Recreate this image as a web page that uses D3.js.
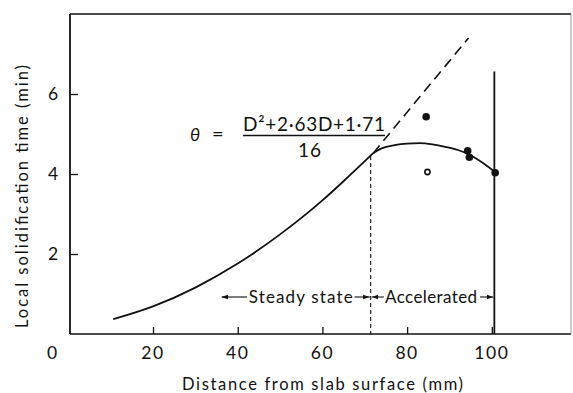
<!DOCTYPE html>
<html>
<head>
<meta charset="utf-8">
<script src="https://cdn.jsdelivr.net/npm/d3@7"></script>
<style>
  body { margin: 0; background: #fff; }
  svg text { font-family: Lato, "Open Sans", sans-serif; fill: #111; }
</style>
</head>
<body>
<div class="chart"></div>
<script>
// steady state curve (solid), distance mm -> time min
var steadyCurve = [[10.6, 0.37], [20, 0.69], [30, 1.16], [40, 1.76], [50, 2.49], [60, 3.34], [66, 3.92], [72, 4.52]];
// accelerated part (solid)
var accelCurve = [[72, 4.52], [74, 4.64], [77, 4.72], [80, 4.76], [83, 4.77], [86, 4.74], [89, 4.68], [92, 4.6], [95, 4.47], [98, 4.27], [101, 4.03]];
// extrapolated steady state (dashed)
var extrapCurve = [[72, 4.52], [83, 5.93], [94.5, 7.4]];
// measured points
var filledPoints = [[84.5, 5.43], [94.3, 4.58], [94.7, 4.42], [100.8, 4.03]];
var openPoints = [[84.8, 4.05]];
var xTicks = [20, 40, 60, 80, 100];
var yTicks = [2, 4, 6];
var boundaryDash = 71.4;     // steady / accelerated
var boundarySolid = 100.6;   // end of accelerated
var boundarySolidTop = 6.56;

var width = 573, height = 393;
var svg = d3.select('.chart').append('svg')
    .attr('width', width)
    .attr('height', height);

var x = d3.scaleLinear().domain([0.4, 118.7]).range([70, 571]);
var y = d3.scaleLinear().domain([0, 8]).range([334, 14]);

//边框
svg.append('line').attr('x1', x(0.4)).attr('x2', x(118.7)).attr('y1', y(8)).attr('y2', y(8))
    .style('stroke', '#111').style('stroke-width', 1.6);
svg.append('line').attr('x1', x(0.4)).attr('x2', x(118.7)).attr('y1', y(0)).attr('y2', y(0))
    .style('stroke', '#111').style('stroke-width', 1.6);
svg.append('line').attr('x1', x(0.4)).attr('x2', x(0.4)).attr('y1', y(8)).attr('y2', y(0))
    .style('stroke', '#111').style('stroke-width', 1.8);
svg.append('line').attr('x1', x(118.7)).attr('x2', x(118.7)).attr('y1', y(8)).attr('y2', y(0))
    .style('stroke', '#999').style('stroke-width', 1);

// x轴 (ticks inside)
var xAxis = d3.axisTop(x).tickValues(xTicks).tickSizeInner(7).tickSizeOuter(0).tickFormat('');
var gx = svg.append('g').attr('transform', 'translate(0,' + y(0) + ')').call(xAxis);
gx.select('.domain').remove();
gx.selectAll('.tick line').style('stroke', '#111').style('stroke-width', 1.3);
svg.append('g').selectAll('text').data(xTicks).enter().append('text')
    .attr('x', function(d) { return x(d); })
    .attr('y', 359)
    .attr('text-anchor', 'middle')
    .style('font-size', '17.5px')
    .style('letter-spacing', '1.5px')
    .text(function(d) { return d; });
svg.append('text').attr('x', 52).attr('y', 359).attr('text-anchor', 'middle')
    .style('font-size', '17.5px').text('0');

// y轴
var yAxis = d3.axisRight(y).tickValues(yTicks).tickSizeInner(8).tickSizeOuter(0).tickFormat('');
var gy = svg.append('g').attr('transform', 'translate(' + x(0.4) + ',0)').call(yAxis);
gy.select('.domain').remove();
gy.selectAll('.tick line').style('stroke', '#111').style('stroke-width', 1.3);
svg.append('g').selectAll('text').data(yTicks).enter().append('text')
    .attr('x', 53)
    .attr('y', function(d) { return y(d) + 6; })
    .attr('text-anchor', 'middle')
    .style('font-size', '17.5px')
    .text(function(d) { return d; });

// axis titles
svg.append('text').attr('x', 182).attr('y', 390)
    .attr('textLength', 281).attr('lengthAdjust', 'spacing')
    .style('font-size', '16.5px')
    .text('Distance from slab surface (mm)');
svg.append('text').attr('transform', 'translate(28,328) rotate(-90)')
    .attr('textLength', 263).attr('lengthAdjust', 'spacing')
    .style('font-size', '16.5px')
    .text('Local solidification time (min)');

var line = d3.line()
    .x(function(d) { return x(d[0]); })
    .y(function(d) { return y(d[1]); })
    .curve(d3.curveMonotoneX);

svg.append('path').datum(steadyCurve).attr('d', line)
    .style('fill', 'none').style('stroke', '#111').style('stroke-width', 1.8);
svg.append('path').datum(accelCurve).attr('d', line)
    .style('fill', 'none').style('stroke', '#111').style('stroke-width', 1.8);
svg.append('path').datum(extrapCurve).attr('d', line)
    .style('fill', 'none').style('stroke', '#111').style('stroke-width', 1.6)
    .style('stroke-dasharray', '10,6');

// 分界线
svg.append('line')
    .attr('x1', x(boundaryDash)).attr('x2', x(boundaryDash))
    .attr('y1', y(4.45)).attr('y2', y(0))
    .style('stroke', '#111').style('stroke-width', 1.1).style('stroke-dasharray', '4,3');
svg.append('line')
    .attr('x1', x(boundarySolid)).attr('x2', x(boundarySolid))
    .attr('y1', y(boundarySolidTop)).attr('y2', y(0))
    .style('stroke', '#111').style('stroke-width', 1.8);

// points
svg.append('g').selectAll('circle').data(filledPoints).enter().append('circle')
    .attr('cx', function(d) { return x(d[0]); })
    .attr('cy', function(d) { return y(d[1]); })
    .attr('r', 3.8)
    .style('fill', '#111');
svg.append('g').selectAll('circle').data(openPoints).enter().append('circle')
    .attr('cx', function(d) { return x(d[0]); })
    .attr('cy', function(d) { return y(d[1]); })
    .attr('r', 2.6)
    .style('fill', '#fff').style('stroke', '#111').style('stroke-width', 1.6);

// 区间标注 (arrows)
var defs = svg.append('defs');
defs.append('marker').attr('id', 'arr').attr('viewBox', '0 0 10 10')
    .attr('refX', 10).attr('refY', 5).attr('markerWidth', 6).attr('markerHeight', 6)
    .attr('orient', 'auto-start-reverse')
    .append('path').attr('d', 'M0,1.5 L10,5 L0,8.5 Z').style('fill', '#111');

var arrowY = 297;
function arrow(x1, x2, startHead, endHead) {
    var l = svg.append('line').attr('x1', x1).attr('x2', x2).attr('y1', arrowY).attr('y2', arrowY)
        .style('stroke', '#111').style('stroke-width', 1.1);
    if (startHead) l.attr('marker-start', 'url(#arr)');
    if (endHead) l.attr('marker-end', 'url(#arr)');
}
arrow(x(36.2), x(42.2), true, false);
svg.append('text').attr('x', x(42.6)).attr('y', arrowY + 6)
    .attr('textLength', 104).attr('lengthAdjust', 'spacing')
    .style('font-size', '17px')
    .text('Steady state');
arrow(x(67.6), x(boundaryDash) - 1, false, true);
arrow(x(boundaryDash) + 1, x(74.5), true, false);
svg.append('text').attr('x', x(74.8)).attr('y', arrowY + 6)
    .attr('textLength', 92).attr('lengthAdjust', 'spacing')
    .style('font-size', '17px')
    .text('Accelerated');
arrow(x(97.2), x(boundarySolid) - 1, false, true);

// formula
svg.append('text').attr('x', 190).attr('y', 141)
    .style('font-size', '18px').style('font-style', 'italic').text('θ');
svg.append('text').attr('x', 212).attr('y', 141)
    .style('font-size', '20px').text('=');
svg.append('text').attr('x', 243).attr('y', 131)
    .attr('textLength', 142).attr('lengthAdjust', 'spacing')
    .style('font-size', '19px')
    .text('D²+2·63D+1·71');
svg.append('line').attr('x1', 243).attr('x2', 385).attr('y1', 135.5).attr('y2', 135.5)
    .style('stroke', '#111').style('stroke-width', 1.3);
svg.append('text').attr('x', 310).attr('y', 157).attr('text-anchor', 'middle')
    .style('font-size', '19px').style('letter-spacing', '1px').text('16');
</script>
</body>
</html>
